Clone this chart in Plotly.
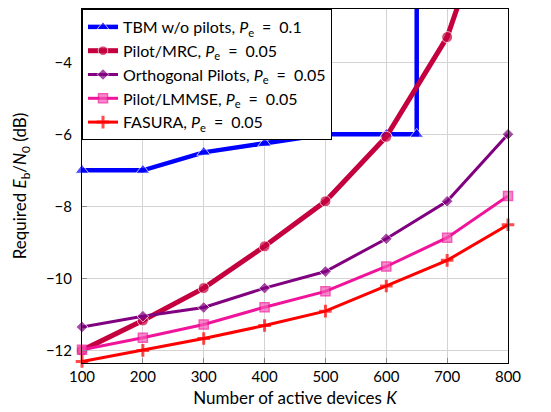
import plotly.graph_objects as go

K = [100, 200, 300, 400, 500, 600, 700, 800]
tbm_K = [100, 200, 300, 400, 500, 600, 650, 650]
tbm = [-7.0, -7.0, -6.5, -6.25, -6.0, -6.0, -6.0, 5.0]
mrc = [-12.0, -11.17, -10.27, -9.11, -7.86, -6.07, -3.3, 1.6]
orth = [-11.35, -11.05, -10.81, -10.27, -9.81, -8.9, -7.86, -6.0]
lmmse = [-11.98, -11.65, -11.28, -10.8, -10.36, -9.67, -8.87, -7.71]
fasura = [-12.31, -12.0, -11.67, -11.31, -10.91, -10.21, -9.5, -8.51]

EQ = "\u2002=\u2002"
names = [
    "TBM w/o pilots, <i>P</i><sub>e</sub>" + EQ + "0.1",
    "Pilot/MRC, <i>P</i><sub>e</sub>" + EQ + "0.05",
    "Orthogonal Pilots, <i>P</i><sub>e</sub>" + EQ + "0.05",
    "Pilot/LMMSE, <i>P</i><sub>e</sub>" + EQ + "0.05",
    "FASURA, <i>P</i><sub>e</sub>" + EQ + "0.05",
]
yticks = [-12, -10, -8, -6, -4]
xticks = [100, 200, 300, 400, 500, 600, 700, 800]

YMIN, YMAX = -12.35, -2.52

def sizes(vals, s):
    return [s if YMIN <= v <= YMAX else 0 for v in vals]

FONT = "Lato"
fig = go.Figure()

styles = [
    (tbm_K, tbm, "#0000FF", 4.5, "triangle-up", 12),
    (K, mrc, "#C4003F", 5, "circle", 11),
    (K, orth, "#800080", 3, "diamond", 9),
    (K, lmmse, "#F0149A", 3, "square", 9),
    (K, fasura, "#FF0000", 3, "cross-thin", 9),
]
for i, (xs, ys, col, lw, sym, ms) in enumerate(styles):
    marker = dict(symbol=sym, size=sizes(ys, ms), color=col)
    if sym == "cross-thin":
        marker["line"] = dict(color=col, width=3)
    elif sym == "square":
        marker["line"] = dict(color=col, width=1.5)
        marker["color"] = "#F55AB5"
    fig.add_trace(go.Scatter(
        x=xs, y=ys, name=names[i], mode="lines+markers",
        line=dict(color=col, width=lw), marker=marker,
        cliponaxis=False, legendgroup=f"g{i}",
    ))

fig.update_layout(
    width=551, height=412,
    margin=dict(l=82, r=43, t=9, b=49),
    paper_bgcolor="white", plot_bgcolor="white",
    font=dict(family=FONT, size=15, color="black"),
    showlegend=True,
    legend=dict(
        x=0, y=1, xanchor="left", yanchor="top",
        bgcolor="white", bordercolor="black", borderwidth=1,
        font=dict(family=FONT, size=16), tracegroupgap=0,
    ),
    xaxis=dict(
        range=[100, 800], tickvals=xticks, ticktext=[str(v) for v in xticks],
        showgrid=True, gridcolor="#d3d3d3", gridwidth=1,
        showline=True, linecolor="black", linewidth=1, mirror=True,
        ticks="inside", ticklen=5, tickcolor="#888888", zeroline=False,
        automargin=False,
        title=dict(text="Number of active devices <i>K</i>", standoff=8,
                   font=dict(family=FONT, size=17)),
    ),
    yaxis=dict(
        range=[YMIN, YMAX], tickvals=yticks,
        ticktext=["\u2212" + str(abs(v)) for v in yticks],
        showgrid=True, gridcolor="#d3d3d3", gridwidth=1,
        showline=True, linecolor="black", linewidth=1, mirror=True,
        ticks="inside", ticklen=5, tickcolor="#888888", zeroline=False,
        automargin=False, ticklabelstandoff=6,
        title=dict(text="Required <i>E</i><sub>b</sub>/<i>N</i><sub>0</sub> (dB)",
                   standoff=14, font=dict(family=FONT, size=17)),
    ),
)

fig.write_html("out.html", config={"displayModeBar": False})
with open("out.html", encoding="utf-8") as f:
    html = f.read()
html = html.replace("<body>", '<body style="margin:0;padding:0">', 1)
with open("out.html", "w", encoding="utf-8") as f:
    f.write(html)
